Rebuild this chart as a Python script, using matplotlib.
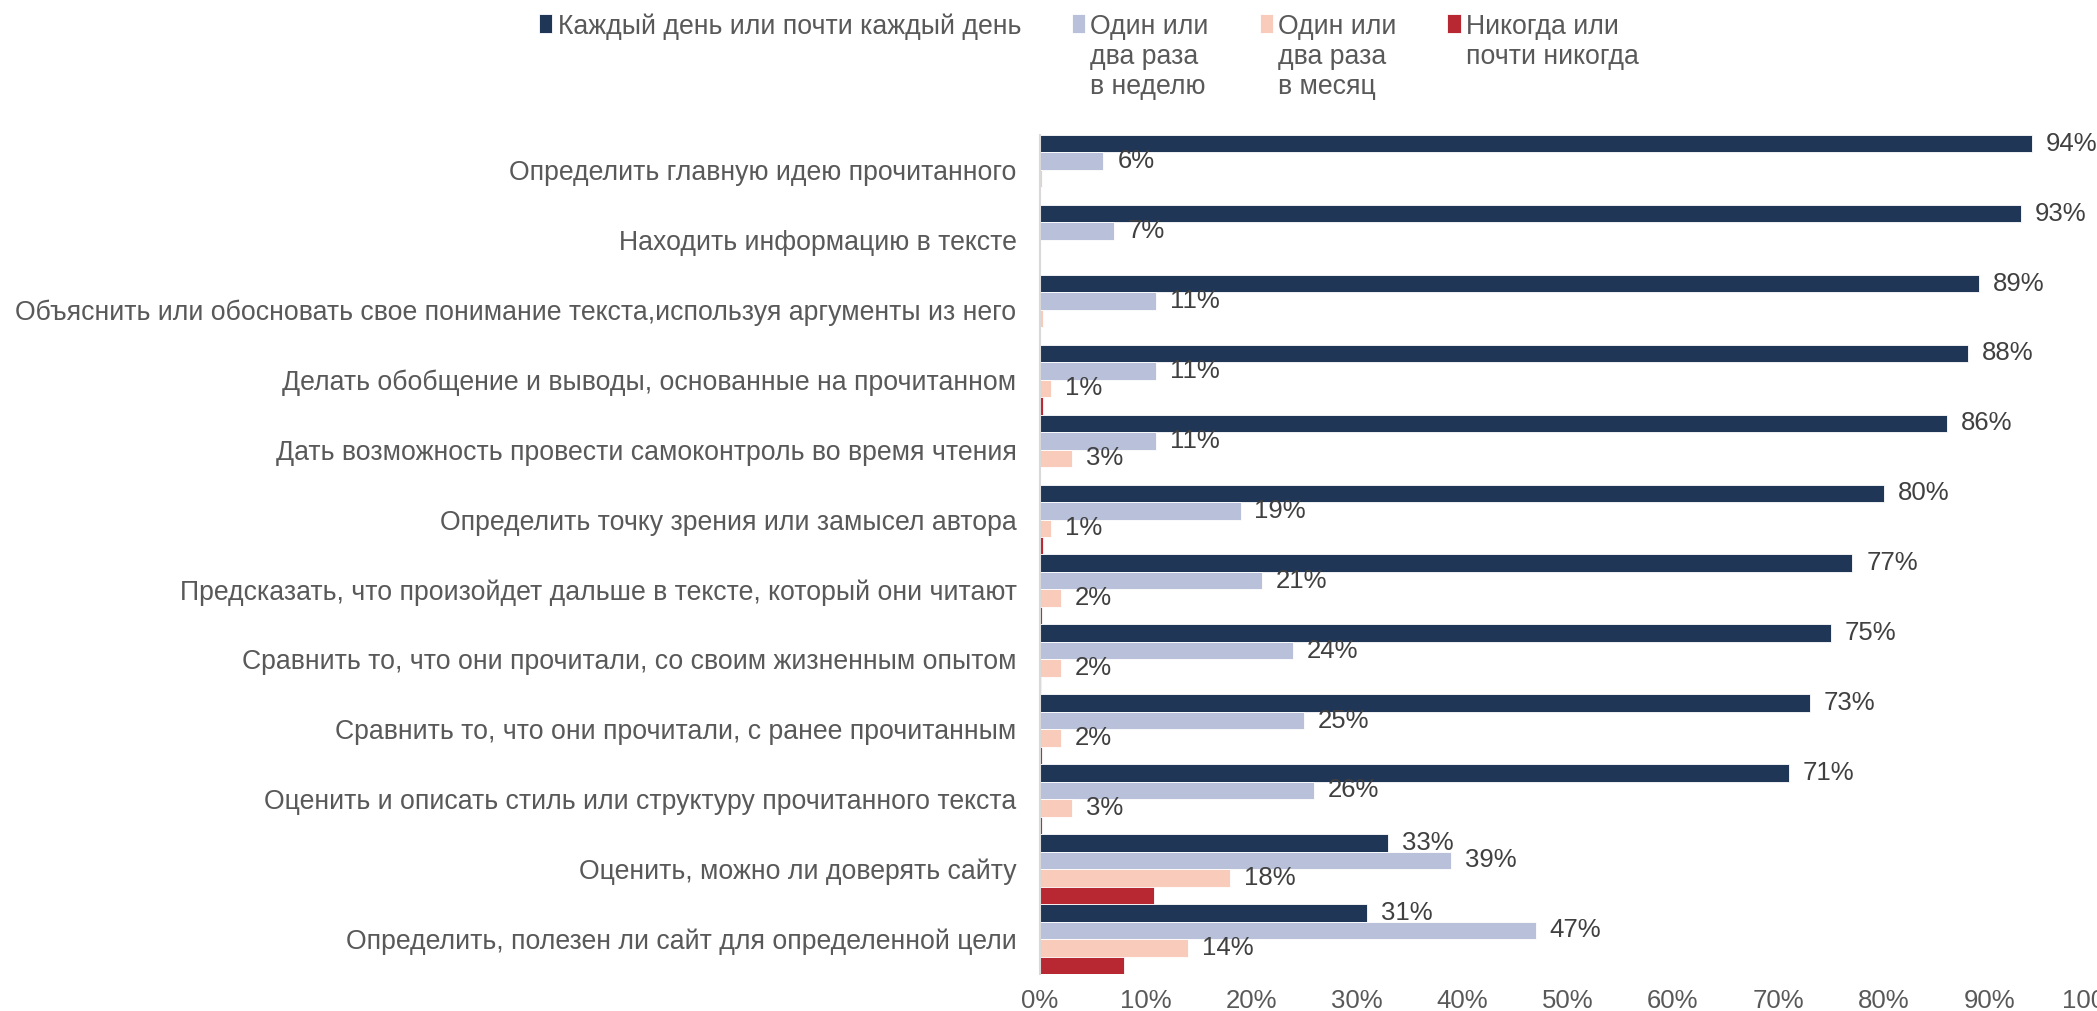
import numpy as np
import matplotlib.pyplot as plt

plt.rcParams['font.family'] = ['Liberation Sans', 'DejaVu Sans']

categories = [
    "Определить главную идею прочитанного",
    "Находить информацию в тексте",
    "Объяснить или обосновать свое понимание текста,используя аргументы из него",
    "Делать обобщение и выводы, основанные на прочитанном",
    "Дать возможность провести самоконтроль во время чтения",
    "Определить точку зрения или замысел автора",
    "Предсказать, что произойдет дальше в тексте, который они читают",
    "Сравнить то, что они прочитали, со своим жизненным опытом",
    "Сравнить то, что они прочитали, с ранее прочитанным",
    "Оценить и описать стиль или структуру прочитанного текста",
    "Оценить, можно ли доверять сайту",
    "Определить, полезен ли сайт для определенной цели",
]

daily = [94, 93, 89, 88, 86, 80, 77, 75, 73, 71, 33, 31]
weekly = [6, 7, 11, 11, 11, 19, 21, 24, 25, 26, 39, 47]
monthly = [0.2, 0, 0.3, 1, 3, 1, 2, 2, 2, 3, 18, 14]
never = [0, 0, 0, 0.3, 0, 0.3, 0.2, 0.1, 0.2, 0.2, 10.8, 8]

series_names = [
    "Каждый день или почти каждый день",
    "Один или\nдва раза\nв неделю",
    "Один или\nдва раза\nв месяц",
    "Никогда или\nпочти никогда",
]
colors = ["#1F3657", "#B8C0DA", "#F8CBBA", "#B72833"]
show_labels = [True, True, True, False]

fig = plt.figure(figsize=(20.97, 10.11), dpi=100)
ax = fig.add_axes([0.496, 0.0366, 0.503, 0.8299])

y = np.arange(len(categories))
h = 0.25
offsets = [-0.375, -0.125, 0.125, 0.375]
all_series = [daily, weekly, monthly, never]

for vals, name, c, off, lab in zip(all_series, series_names, colors, offsets, show_labels):
    bars = ax.barh(y + off, vals, height=h, color=c, label=name,
                   edgecolor='white', linewidth=0.6)
    if lab:
        labels = [f"{v:.0f}%" if v >= 0.5 else "" for v in vals]
        ax.bar_label(bars, labels=labels, padding=10, fontsize=18.5, color='#404040')

ax.set_ylim(len(categories) - 0.5, -0.5)
ax.set_xlim(0, 100)
ax.set_yticks(y)
ax.set_yticklabels(categories, fontsize=19.2, color='#595959')
ax.set_xticks(np.arange(0, 101, 10))
ax.set_xticklabels([f"{t}%" for t in range(0, 101, 10)], fontsize=18.5, color='#595959')
ax.tick_params(axis='y', length=0, pad=17)
ax.tick_params(axis='x', length=0, pad=11)
for s in ['top', 'right', 'bottom']:
    ax.spines[s].set_visible(False)
ax.spines['left'].set_color('#D9D9D9')
ax.spines['left'].set_linewidth(1.5)

leg = fig.legend(loc='upper left', bbox_to_anchor=(0.252, 0.997), ncol=4, frameon=False,
                 fontsize=19.2, handlelength=0.5, handleheight=0.75, handletextpad=0.2,
                 columnspacing=1.9, labelcolor='#595959', borderaxespad=0.0)
# put markers next to the first line of each label, columns aligned at the top
leg._legend_handle_box.align = "top"
for col in leg._legend_handle_box.get_children():
    for item in col.get_children():
        item.align = "top"

fig.savefig('out.png', dpi=100)
